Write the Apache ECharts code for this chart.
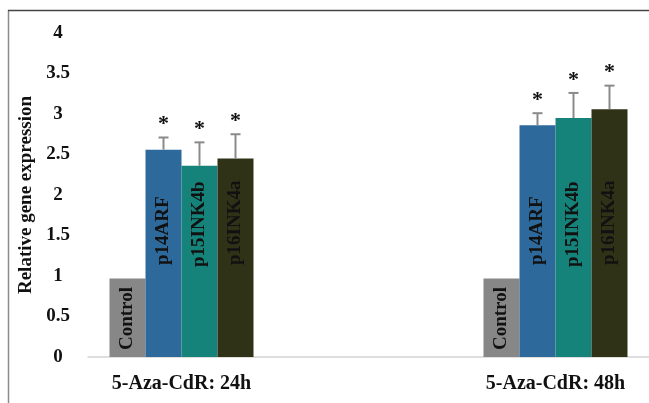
<!DOCTYPE html>
<html>
<head>
<meta charset="utf-8">
<script src="https://cdn.jsdelivr.net/npm/echarts@6/dist/echarts.min.js"></script>
<style>
  html, body { margin: 0; padding: 0; background: #fff; }
  #chart { width: 649px; height: 403px; }
</style>
</head>
<body>
<div id="chart"></div>
<script>
// Treatment time points (middle slot left empty to space the two groups apart)
const categories = ['5-Aza-CdR: 24h', '', '5-Aza-CdR: 48h'];

// Relative expression per gene at each time point
const control  = [0.97, null, 0.97];
const p14ARF   = [2.56, null, 2.86];
const p15INK4b = [2.36, null, 2.95];
const p16INK4a = [2.45, null, 3.06];

// Standard deviations (upper error bars)
const p14ARFErr   = [0.15, null, 0.15];
const p15INK4bErr = [0.29, null, 0.31];
const p16INK4aErr = [0.30, null, 0.29];

// Significance markers
const p14ARFSig   = ['*', null, '*'];
const p15INK4bSig = ['*', null, '*'];
const p16INK4aSig = ['*', null, '*'];

// Y axis ticks
const yMin = 0, yMax = 4, yStep = 0.5;

const SERIF = '"Liberation Serif", "Times New Roman", serif';
const BAR_W = 36;
const N_SERIES = 4;

const seriesDefs = [
  { name: 'Control',  values: control,  color: '#878787', labelDist: 7 },
  { name: 'p14ARF',   values: p14ARF,   color: '#2e699b', labelDist: 92, err: p14ARFErr,   sig: p14ARFSig },
  { name: 'p15INK4b', values: p15INK4b, color: '#16837a', labelDist: 90, err: p15INK4bErr, sig: p15INK4bSig },
  { name: 'p16INK4a', values: p16INK4a, color: '#2f3217', labelDist: 92, err: p16INK4aErr, sig: p16INK4aSig }
];

const series = [];
seriesDefs.forEach((d, si) => {
  series.push({
    name: d.name,
    type: 'bar',
    data: d.values,
    barWidth: BAR_W,
    barGap: '0%',
    itemStyle: { color: d.color },
    label: {
      show: true,
      rotate: 90,
      position: 'insideBottom',
      distance: d.labelDist,
      align: 'left',
      verticalAlign: 'middle',
      formatter: () => d.name,
      fontFamily: SERIF,
      fontWeight: 'bold',
      fontSize: 19,
      color: '#111'
    },
    z: 2
  });
});

// Error bars with significance asterisks
seriesDefs.forEach((d, si) => {
  if (!d.err) return;
  const data = d.values.map((v, i) => v == null ? null : [i, v, d.err[i], d.sig[i]]);
  series.push({
    name: d.name + ' error',
    type: 'custom',
    data: data.filter(x => x),
    z: 5,
    renderItem: function (params, api) {
      const cat = api.value(0);
      const val = api.value(1);
      const err = api.value(2);
      const center = api.coord([cat, val]);
      const x = center[0] + (si - (N_SERIES - 1) / 2) * BAR_W;
      const yTop = api.coord([cat, val + err])[1];
      const yBase = center[1];
      const capHalf = 5;
      const st = { stroke: '#8a8a8a', lineWidth: 2 };
      const children = [
        { type: 'line', shape: { x1: x, y1: yBase, x2: x, y2: yTop }, style: st },
        { type: 'line', shape: { x1: x - capHalf, y1: yTop, x2: x + capHalf, y2: yTop }, style: st }
      ];
      const sig = d.sig[cat];
      if (sig) {
        children.push({
          type: 'text',
          style: {
            text: sig,
            x: x,
            y: yTop - 2,
            align: 'center',
            verticalAlign: 'bottom',
            font: 'bold 22px ' + SERIF,
            fill: '#111'
          }
        });
      }
      return { type: 'group', children: children };
    }
  });
});

const chart = echarts.init(document.getElementById('chart'), null, { renderer: 'canvas' });
chart.setOption({
  animation: false,
  backgroundColor: '#ffffff',
  grid: { left: 88, top: 33, width: 564, bottom: 46, containLabel: false },
  xAxis: {
    type: 'category',
    data: categories,
    axisLine: { show: true, lineStyle: { color: '#d4d4d4', width: 1.5 } },
    axisTick: { show: false },
    axisLabel: {
      margin: 17,
      fontFamily: SERIF,
      fontWeight: 'bold',
      fontSize: 20,
      color: '#111',
      interval: 0
    }
  },
  yAxis: {
    type: 'value',
    min: yMin,
    max: yMax,
    interval: yStep,
    name: 'Relative gene expression',
    nameLocation: 'middle',
    nameGap: 49,
    nameRotate: 90,
    nameTextStyle: {
      fontFamily: SERIF,
      fontWeight: 'bold',
      fontSize: 19,
      color: '#111'
    },
    axisLine: { show: false },
    axisTick: { show: false },
    splitLine: { show: false },
    axisLabel: {
      margin: 30,
      align: 'center',
      fontFamily: SERIF,
      fontWeight: 'bold',
      fontSize: 19,
      color: '#111'
    }
  },
  series: series,
  graphic: [
    { type: 'line', shape: { x1: 8.5, y1: 10, x2: 8.5, y2: 403 }, style: { stroke: '#8c8c8c', lineWidth: 1.5 } },
    { type: 'line', shape: { x1: 8, y1: 10.5, x2: 649, y2: 10.5 }, style: { stroke: '#444', lineWidth: 1.5 } }
  ]
});
</script>
</body>
</html>
